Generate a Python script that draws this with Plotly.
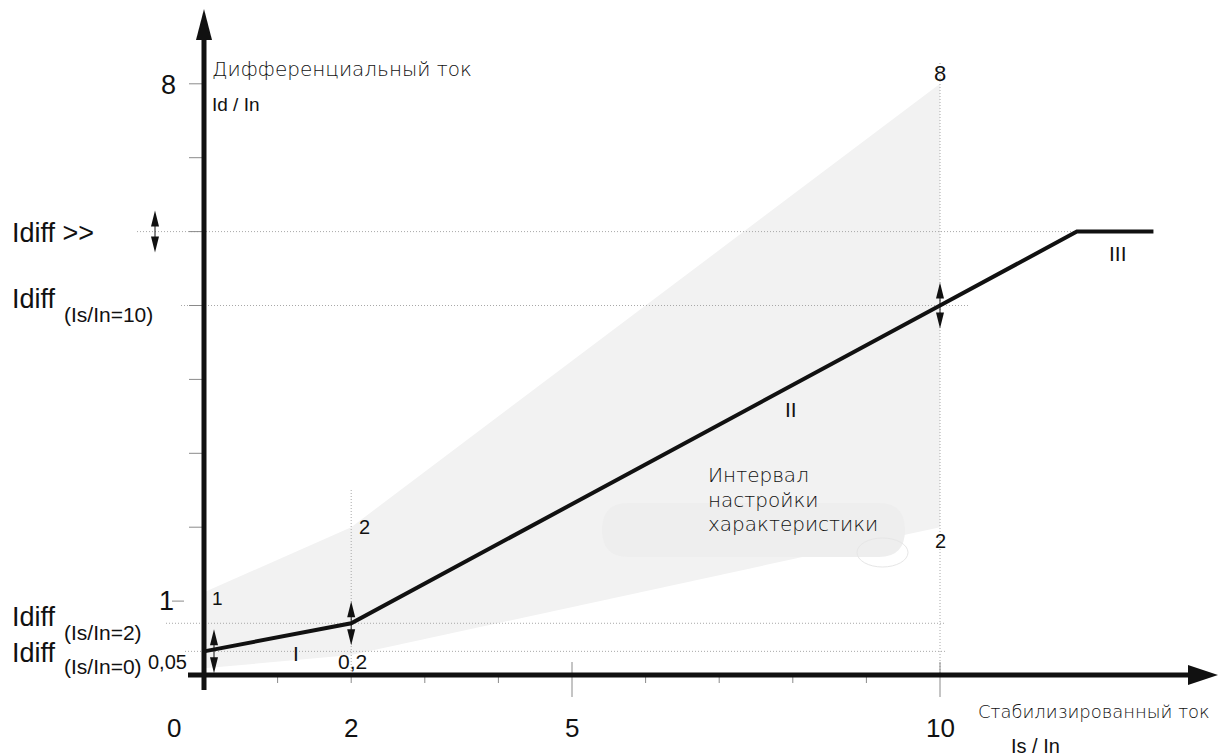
import plotly.graph_objects as go

W, H = 1219, 756

# pixel position of the origin and size of one unit (used to align hidden axes)
X0_PX, X_UNIT = 204, 73.6
Y0_PX, Y_UNIT = 675, 73.9

# tripping characteristic Id/In = f(Is/In)
curve_is = [0, 2, 10, 11.86, 12.9]
curve_id = [0.32, 0.70, 5.0, 6.0, 6.0]

# setting range (shaded band)
band_upper_is = [0, 2, 10]
band_upper_id = [1.12, 2.0, 8.0]
band_lower_is = [0, 2, 10]
band_lower_id = [0.09, 0.27, 2.0]

idiff_0 = 0.32     # Idiff (Is/In=0)
idiff_2 = 0.70     # Idiff (Is/In=2)
idiff_10 = 5.0     # Idiff (Is/In=10)
idiff_max = 6.0    # Idiff >>

x_tick_vals = [0, 2, 5, 10]
x_tick_text = ['0', '2', '5', '10']
x_minor = [1, 2, 3, 4, 6, 7, 8, 9]
x_major = [5, 10]
y_minor = [2, 3, 4, 5, 6, 7, 8]


def px2x(px):
    return (px - X0_PX) / X_UNIT


def py2y(py):
    return (Y0_PX - py) / Y_UNIT


def path(points):
    # points given in data coords
    s = 'M ' + ' L '.join(f'{x:.4f},{y:.4f}' for x, y in points)
    return s + ' Z'


ARIAL = 'Liberation Sans, Arial, sans-serif'
GOTHIC = 'DejaVu Sans, sans-serif'
TEXT_GRAY = '#111111'

fig = go.Figure()

# shaded band
fig.add_trace(go.Scatter(
    x=band_upper_is + band_lower_is[::-1],
    y=band_upper_id + band_lower_id[::-1],
    fill='toself', fillcolor='#f2f2f2', mode='lines',
    line=dict(width=0, color='#f2f2f2'), hoverinfo='skip'))

# dotted guide lines
dot = dict(color='#a8a8a8', width=1, dash='1px,2px')
guides = [
    ([px2x(137), curve_is[3]], [idiff_max, idiff_max]),
    ([px2x(181), px2x(968)], [idiff_10, idiff_10]),
    ([px2x(166), px2x(945)], [idiff_2, idiff_2]),
    ([px2x(185), px2x(945)], [idiff_0, idiff_0]),
    ([2, 2], [py2y(490), 0]),
    ([10, 10], [py2y(63), 0]),
]
for gx, gy in guides:
    fig.add_trace(go.Scatter(x=gx, y=gy, mode='lines', line=dot, hoverinfo='skip'))

# characteristic
fig.add_trace(go.Scatter(x=curve_is, y=curve_id, mode='lines',
                         line=dict(color='#111111', width=4), hoverinfo='skip'))

shapes = []

# label background blob
bx0, bx1, by0, by1, r = 602, 905, 503, 557, 26
blob = (f'M {px2x(bx0 + r)},{py2y(by0)} L {px2x(bx1 - r)},{py2y(by0)} '
        f'Q {px2x(bx1)},{py2y(by0)} {px2x(bx1)},{py2y((by0 + by1) / 2)} '
        f'Q {px2x(bx1)},{py2y(by1)} {px2x(bx1 - r)},{py2y(by1)} '
        f'L {px2x(bx0 + r)},{py2y(by1)} '
        f'Q {px2x(bx0)},{py2y(by1)} {px2x(bx0)},{py2y((by0 + by1) / 2)} '
        f'Q {px2x(bx0)},{py2y(by0)} {px2x(bx0 + r)},{py2y(by0)} Z')
shapes.append(dict(type='path', path=blob, xref='x', yref='y',
                   fillcolor='#eeeeee', line=dict(width=0)))
shapes.append(dict(type='circle', xref='x', yref='y',
                   x0=px2x(857), x1=px2x(908), y0=py2y(567), y1=py2y(538),
                   line=dict(color='#e6e6e6', width=1)))

# ticks
tick = dict(color='#8a8a8a', width=1)
for v in x_minor:
    shapes.append(dict(type='line', xref='x', yref='y', x0=v, x1=v,
                       y0=0, y1=py2y(683), line=tick))
for v in x_major:
    shapes.append(dict(type='line', xref='x', yref='y', x0=v, x1=v,
                       y0=py2y(662), y1=py2y(697), line=tick))
for v in y_minor:
    shapes.append(dict(type='line', xref='x', yref='y', x0=px2x(189), x1=0,
                       y0=v, y1=v, line=tick))
shapes.append(dict(type='line', xref='x', yref='y', x0=px2x(172), x1=px2x(184),
                   y0=1, y1=1, line=tick))

# axes with arrow heads
shapes.append(dict(type='line', xref='x', yref='y', x0=px2x(188), x1=px2x(1192),
                   y0=0, y1=0, line=dict(color='#111111', width=5)))
shapes.append(dict(type='path', xref='x', yref='y', fillcolor='#111111',
                   line=dict(width=0),
                   path=path([(px2x(1218), 0), (px2x(1188), py2y(Y0_PX - 10)),
                              (px2x(1188), py2y(Y0_PX + 10))])))
shapes.append(dict(type='line', xref='x', yref='y', x0=0, x1=0,
                   y0=py2y(690), y1=py2y(38), line=dict(color='#111111', width=5)))
shapes.append(dict(type='path', xref='x', yref='y', fillcolor='#111111',
                   line=dict(width=0),
                   path=path([(0, py2y(9)), (px2x(X0_PX - 8), py2y(40)),
                              (px2x(X0_PX + 8), py2y(40))])))


def double_arrow(x, y, half):
    xp = X0_PX + x * X_UNIT
    yp = Y0_PX - y * Y_UNIT
    top, bot = yp - half, yp + half
    shapes.append(dict(type='line', xref='x', yref='y', x0=x, x1=x,
                       y0=py2y(top + 4), y1=py2y(bot - 4),
                       line=dict(color='#111111', width=1)))
    for tip, base in [(top, top + 16), (bot, bot - 16)]:
        shapes.append(dict(type='path', xref='x', yref='y', fillcolor='#111111',
                           line=dict(width=0),
                           path=path([(x, py2y(tip)), (px2x(xp - 4), py2y(base)),
                                      (px2x(xp + 4), py2y(base))])))


double_arrow(px2x(155), idiff_max, 21)
double_arrow(10, idiff_10, 23)
double_arrow(2, idiff_2, 22)
double_arrow(px2x(214), idiff_0, 22)

fig.update_layout(shapes=shapes)


def label(text, xpx, ypx, size, font=ARIAL, anchor='center', weight=None, color='#111111'):
    f = dict(family=font, size=size, color=color)
    if weight:
        f['weight'] = weight
    fig.add_annotation(x=px2x(xpx), y=py2y(ypx), xref='x', yref='y', text=text,
                       showarrow=False, xanchor=anchor, yanchor='middle', font=f)


# y side labels
label('8', 168, 85, 27)
label('1', 166, 601, 27)
label('Дифференциальный ток', 210, 69, 20, GOTHIC, 'left', 200, TEXT_GRAY)
label('Id / In', 210, 104, 19, anchor='left')
label('Idiff &gt;&gt;', 10, 233, 27, anchor='left')
label('Idiff', 10, 299, 27, anchor='left')
label('(Is/In=10)', 62, 314, 21, anchor='left')
label('Idiff', 10, 617, 27, anchor='left')
label('(Is/In=2)', 62, 632, 21, anchor='left')
label('Idiff', 10, 653, 27, anchor='left')
label('(Is/In=0)', 62, 666, 21, anchor='left')
label('0,05', 167, 662, 20)

# in-plot labels
label('1', 210, 598, 19, anchor='left')
label('2', 364, 527, 20)
label('0,2', 352, 661, 21)
label('I', 296, 653, 21)
label('II', 791, 409, 21)
label('III', 1118, 253, 21)
label('8', 940, 73, 22)
label('2', 940, 541, 20)
label('Интервал', 706, 475, 20, GOTHIC, 'left', 200, TEXT_GRAY)
label('настройки', 706, 500, 20, GOTHIC, 'left', 200, TEXT_GRAY)
label('характеристики', 706, 524, 20, GOTHIC, 'left', 200, TEXT_GRAY)

# x labels
x_shift = {0: -30}
for v, t in zip(x_tick_vals, x_tick_text):
    label(t, X0_PX + v * X_UNIT + x_shift.get(v, 0), 728, 26)
label('Стабилизированный ток', 976, 711, 18, GOTHIC, 'left', 200, TEXT_GRAY)
label('Is / In', 1009, 746, 20, anchor='left')

fig.update_layout(
    width=W, height=H,
    margin=dict(l=0, r=0, t=0, b=0),
    paper_bgcolor='white', plot_bgcolor='white',
    showlegend=False,
    xaxis=dict(range=[px2x(0), px2x(W)], visible=False, fixedrange=True),
    yaxis=dict(range=[py2y(H), py2y(0)], visible=False, fixedrange=True),
)

# drop the default 8px body margin so the figure sits at the page corner
fig.write_html('out.html', config={'displayModeBar': False},
               post_script="document.body.style.margin='0';")
